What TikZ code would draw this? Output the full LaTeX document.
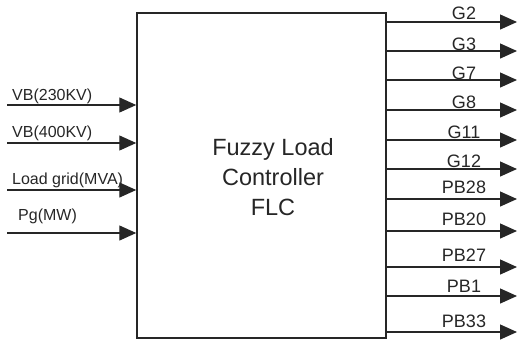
\documentclass[tikz,border=0pt]{standalone}
\usepackage{fontspec}
\setmainfont{Liberation Sans}
\usetikzlibrary{arrows.meta}

\begin{document}
\begin{tikzpicture}[x=1pt,y=-1pt,>={Triangle[length=17pt,width=15pt]},
  sig/.style={line width=1.3pt,->,color=black!85},
  inlbl/.style={anchor=base west,inner sep=0pt,font=\fontsize{16}{18}\selectfont,color=black!85},
  outlbl/.style={anchor=base,inner sep=0pt,font=\fontsize{18}{20}\selectfont,color=black!85}]
  \useasboundingbox (0,0) rectangle (517,341);
  % controller block
  \node[draw=black!85,line width=1.5pt,minimum width=249pt,minimum height=325pt,inner sep=0pt]
    (flc) at (261.5,175.5) {};
  \node[align=center,font=\fontsize{23.5}{30}\selectfont,color=black!85] (flctext) at (273,177)
    {Fuzzy Load\\Controller\\FLC};
  % inputs
  \foreach \i/\txt/\yl/\yt/\xt in {1/VB(230KV)/105/100/12,2/VB(400KV)/143/137/12,
      3/Load grid(MVA)/190/184/12,4/Pg(MW)/233/220/18}{
    \coordinate (in\i) at (7,\yl);
    \draw[sig] (in\i) -- (in\i -| flc.west);
    \node[inlbl] (inl\i) at (\xt,\yt) {\txt};
  }
  % outputs
  \foreach \i/\txt/\yl/\yt in {1/G2/22/19.5,2/G3/51/50,3/G7/80/79,4/G8/110/108,
      5/G11/140/138,6/G12/169/167,7/PB28/199/193,8/PB20/231/225,
      9/PB27/267/261,10/PB1/296/292,11/PB33/332/327}{
    \coordinate (out\i) at (517,\yl);
    \draw[sig] (flc.east |- out\i) -- (out\i);
    \node[outlbl] (outl\i) at (464,\yt) {\txt};
  }
\end{tikzpicture}
\end{document}
